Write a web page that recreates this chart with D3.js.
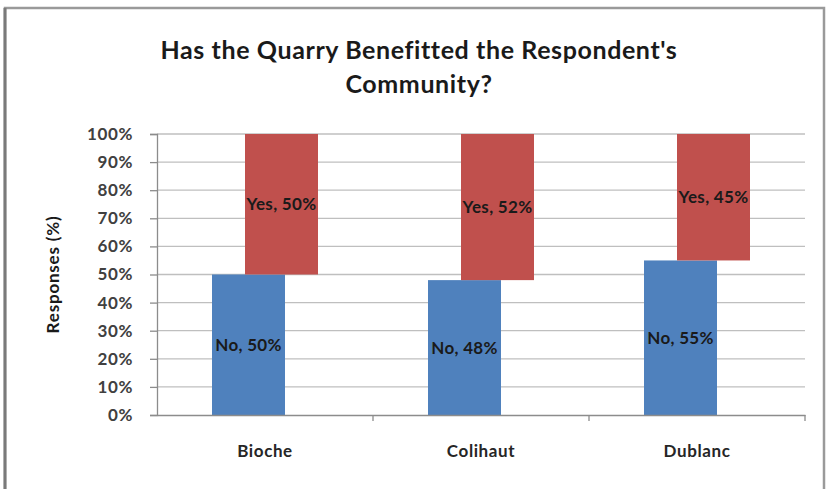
<!DOCTYPE html>
<html>
<head>
<meta charset="utf-8">
<script src="https://cdn.jsdelivr.net/npm/d3@7"></script>
<style>
  body { margin: 0; background: #fff; }
  text { font-family: Lato, "Open Sans", sans-serif; }
</style>
</head>
<body>
<div id="chart"></div>
<script>
// data
var categories = ["Bioche", "Colihaut", "Dublanc"];
var seriesNames = ["No", "Yes"];
var noValues = [50, 48, 55];
var yesValues = [50, 52, 45];
var yTicks = [0, 10, 20, 30, 40, 50, 60, 70, 80, 90, 100];
var titleLines = ["Has the Quarry Benefitted the Respondent's", "Community?"];

var W = 828, H = 489;
var margin = {top: 134, right: 23, bottom: 74, left: 157},
    width = W - margin.left - margin.right,
    height = H - margin.top - margin.bottom;

var svg = d3.select("#chart").append("svg")
    .attr("width", W)
    .attr("height", H);

// outer frame
svg.append("rect")
    .attr("x", 5).attr("y", 8)
    .attr("width", 819).attr("height", 490)
    .attr("fill", "#fff")
    .attr("stroke", "#9a9a9a")
    .attr("stroke-width", 2.5);
svg.append("line")
    .attr("x1", 5).attr("x2", 5).attr("y1", 8).attr("y2", 489)
    .attr("stroke", "#7a7a7a").attr("stroke-width", 3);

// title
svg.append("text")
    .attr("text-anchor", "middle")
    .attr("font-weight", "bold")
    .attr("font-size", 25)
    .attr("letter-spacing", 0.6)
    .attr("fill", "#1a1a1a")
    .selectAll("tspan")
    .data(titleLines)
    .join("tspan")
      .attr("x", 419)
      .attr("y", function(d, i) { return 59 + i * 34; })
      .text(function(d) { return d; });

var g = svg.append("g")
    .attr("transform", "translate(" + margin.left + "," + margin.top + ")");

var x = d3.scaleBand().domain(categories).range([0, width]);
var offset = d3.scalePoint().domain(seriesNames).range([-16.5, 16.5]);
var barW = 73;
var y = d3.scaleLinear().domain([0, 100]).range([height, 0]);

// gridlines
g.append("g")
    .selectAll("line")
    .data(yTicks.slice(1))
    .join("line")
      .attr("x1", 0).attr("x2", width)
      .attr("y1", function(d) { return y(d); })
      .attr("y2", function(d) { return y(d); })
      .attr("stroke", "#bfbfbf")
      .attr("stroke-width", 1.3);

// y axis
var yAxis = g.append("g")
    .call(d3.axisLeft(y).tickValues(yTicks).tickSize(7).tickPadding(17)
      .tickFormat(function(d) { return d + "%"; }));
yAxis.select(".domain").attr("stroke", "#8c8c8c").attr("stroke-width", 1.3);
yAxis.selectAll(".tick line").attr("stroke", "#8c8c8c").attr("stroke-width", 1.3);
yAxis.selectAll(".tick text")
    .attr("font-size", 17)
    .attr("font-weight", "bold")
    .attr("letter-spacing", 0.6)
    .attr("fill", "#404040")
    .attr("font-family", "Lato, sans-serif");

// stacked values
var rows = categories.map(function(c, i) {
  return {cat: c, No: noValues[i], Yes: yesValues[i]};
});
var stacked = d3.stack().keys(seriesNames)(rows);
var colors = {No: "#4f81bd", Yes: "#c0504d"};

var layers = g.append("g").selectAll("g")
    .data(stacked)
    .join("g")
      .attr("fill", function(d) { return colors[d.key]; });

layers.selectAll("rect")
    .data(function(d) { return d.map(function(p) { return {key: d.key, p: p}; }); })
    .join("rect")
      .attr("x", function(d) { return x(d.p.data.cat) + x.bandwidth() / 2 + offset(d.key) - barW / 2; })
      .attr("y", function(d) { return y(d.p[1]); })
      .attr("width", barW)
      .attr("height", function(d) { return y(d.p[0]) - y(d.p[1]); });

// x axis
var xAxis = g.append("g")
    .attr("transform", "translate(0," + height + ")")
    .call(d3.axisBottom(x).tickSize(0).tickPadding(30));
xAxis.select(".domain").attr("stroke", "#8c8c8c").attr("stroke-width", 1.3);
xAxis.selectAll(".tick text")
    .attr("font-size", 17)
    .attr("font-weight", "bold")
    .attr("letter-spacing", 0.6)
    .attr("fill", "#262626")
    .attr("font-family", "Lato, sans-serif");
// category separators
g.append("g")
    .selectAll("line")
    .data(categories)
    .join("line")
      .attr("x1", function(d) { return x(d) + x.bandwidth(); })
      .attr("x2", function(d) { return x(d) + x.bandwidth(); })
      .attr("y1", height).attr("y2", height + 6)
      .attr("stroke", "#8c8c8c")
      .attr("stroke-width", 1.3);

// data labels
layers.selectAll("text")
    .data(function(d) { return d.map(function(p) { return {key: d.key, p: p}; }); })
    .join("text")
      .attr("x", function(d) { return x(d.p.data.cat) + x.bandwidth() / 2 + offset(d.key); })
      .attr("y", function(d) { return y((d.p[0] + d.p[1]) / 2); })
      .attr("dy", "0.35em")
      .attr("text-anchor", "middle")
      .attr("font-size", 17)
      .attr("font-weight", "bold")
      .attr("letter-spacing", 0.3)
      .attr("fill", "#1a1a1a")
      .text(function(d) { return d.key + ", " + (d.p[1] - d.p[0]) + "%"; });

// y axis title
svg.append("text")
    .attr("transform", "translate(59," + (margin.top + height / 2) + ") rotate(-90)")
    .attr("text-anchor", "middle")
    .attr("font-size", 17)
    .attr("font-weight", "bold")
    .attr("letter-spacing", 0.8)
    .attr("fill", "#1a1a1a")
    .text("Responses (%)");
</script>
</body>
</html>
